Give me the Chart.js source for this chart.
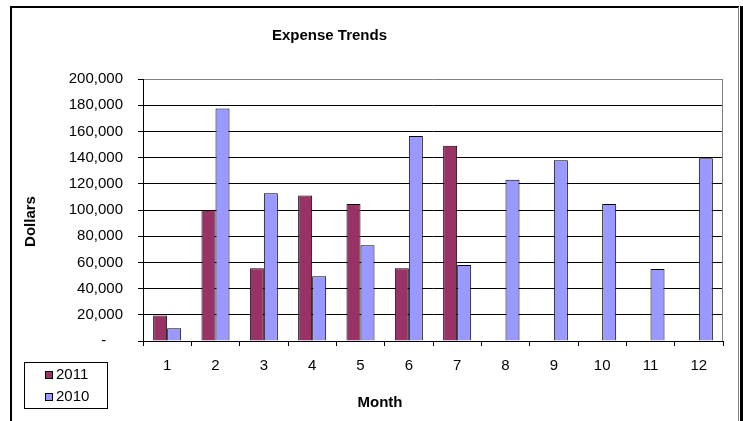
<!DOCTYPE html>
<html>
<head>
<meta charset="utf-8">
<title>Expense Trends</title>
<script src="https://cdn.jsdelivr.net/npm/chart.js@4"></script>
<style>
  body { margin: 0; background: #fff; }
  canvas { display: block; }
</style>
</head>
<body>
<canvas id="graficoGastos" width="743" height="421"></canvas>
<script>
// Datos del gráfico
const meses = ['1', '2', '3', '4', '5', '6', '7', '8', '9', '10', '11', '12'];
const gastos2011 = [19500, 100000, 55500, 111000, 104500, 55500, 149000, null, null, null, null, null];
const gastos2010 = [9800, 177500, 112800, 49500, 73000, 156500, 58000, 123000, 138000, 104500, 55000, 139500];
const ticksY = [0, 20000, 40000, 60000, 80000, 100000, 120000, 140000, 160000, 180000, 200000];

const fuente = "'Liberation Sans', Arial, sans-serif";
const colorGranate = '#993366';
const colorLila = '#9999FF';

// Formato tipo contabilidad: miles con coma y guion para el cero
function formatoDolares(valor) {
    if (valor === 0) return '-    ';
    return valor.toLocaleString('en-US');
}

// Marco, títulos y leyenda dibujados a mano
const extras = {
    id: 'extras',
    afterDraw(chart) {
        const ctx = chart.ctx;
        ctx.save();

        // Marco exterior
        ctx.strokeStyle = '#000';
        ctx.lineWidth = 2;
        ctx.beginPath();
        ctx.moveTo(11, 421);
        ctx.lineTo(11, 7);
        ctx.lineTo(739, 7);
        ctx.stroke();
        ctx.strokeStyle = '#808080';
        ctx.lineWidth = 1;
        ctx.beginPath();
        ctx.moveTo(738.5, 7);
        ctx.lineTo(738.5, 421);
        ctx.stroke();
        ctx.fillStyle = '#000';
        ctx.fillRect(740, 6, 3, 415);

        // Borde derecho del área de trazado
        const area = chart.chartArea;
        ctx.strokeStyle = '#808080';
        ctx.beginPath();
        ctx.moveTo(area.right - 0.5, area.top);
        ctx.lineTo(area.right - 0.5, area.bottom);
        ctx.stroke();

        // Títulos
        ctx.fillStyle = '#000';
        ctx.font = 'bold 15px ' + fuente;
        ctx.textAlign = 'center';
        ctx.textBaseline = 'middle';
        ctx.fillText('Expense Trends', 329.5, 36);
        ctx.fillText('Month', 380, 403);
        ctx.translate(31, 221.5);
        ctx.rotate(-Math.PI / 2);
        ctx.fillText('Dollars', 0, 0);
        ctx.setTransform(1, 0, 0, 1, 0, 0);

        // Leyenda
        ctx.strokeStyle = '#000';
        ctx.lineWidth = 1;
        ctx.strokeRect(24.5, 362.5, 83, 46);
        ctx.font = '15px ' + fuente;
        ctx.textAlign = 'left';
        chart.data.datasets.forEach(function(ds, i) {
            const y = 374.5 + i * 22.5;
            ctx.fillStyle = ds.backgroundColor;
            ctx.fillRect(45, Math.round(y) - 4, 8, 8);
            ctx.strokeRect(45.5, Math.round(y) - 3.5, 7, 7);
            ctx.fillStyle = '#000';
            ctx.fillText(ds.label, 56, y);
        });

        ctx.restore();
    }
};

const ctx = document.getElementById('graficoGastos').getContext('2d');
window.myChart = new Chart(ctx, {
    type: 'bar',
    data: {
        labels: meses,
        datasets: [{
            label: '2011',
            data: gastos2011,
            backgroundColor: colorGranate,
            borderColor: '#000',
            borderWidth: 1
        }, {
            label: '2010',
            data: gastos2010,
            backgroundColor: colorLila,
            borderColor: '#000',
            borderWidth: 1
        }]
    },
    options: {
        responsive: false,
        animation: false,
        layout: {
            padding: { left: 0, right: 20, top: 79, bottom: 0 }
        },
        datasets: {
            bar: { barPercentage: 1, categoryPercentage: 0.58 }
        },
        plugins: {
            legend: { display: false },
            title: { display: false },
            tooltip: { enabled: false }
        },
        scales: {
            x: {
                offset: true,
                afterFit: function(scale) { scale.height = 80; },
                grid: {
                    offset: true,
                    drawOnChartArea: false,
                    tickLength: 5,
                    tickColor: '#000'
                },
                border: { color: '#000', width: 1 },
                ticks: {
                    color: '#000',
                    padding: 11,
                    maxRotation: 0,
                    font: { family: fuente, size: 15 }
                }
            },
            y: {
                min: 0,
                max: 200000,
                afterFit: function(scale) { scale.width = 143; },
                afterBuildTicks: function(scale) {
                    scale.ticks = ticksY.map(function(v) { return { value: v }; });
                },
                grid: {
                    color: function(c) { return c.tick && c.tick.value === 200000 ? '#808080' : '#000'; },
                    tickColor: '#000',
                    tickLength: 5
                },
                border: { color: '#000', width: 1 },
                ticks: {
                    color: '#000',
                    padding: 15,
                    font: { family: fuente, size: 15 },
                    callback: formatoDolares
                }
            }
        }
    },
    plugins: [extras]
});
</script>
</body>
</html>
